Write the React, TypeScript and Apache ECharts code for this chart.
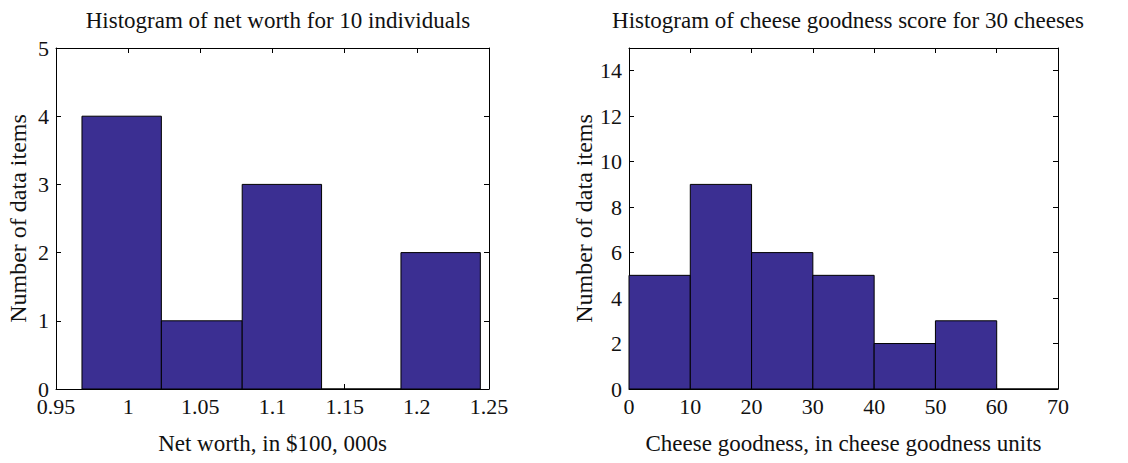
import React, { useEffect, useRef } from "react";
import * as echarts from "echarts";

const netEdges = [0.968, 1.023, 1.079, 1.134, 1.189, 1.244];
const netCounts = [4, 1, 3, 0, 2];
const cheeseEdges = [0, 10, 20, 30, 40, 50, 60, 70];
const cheeseCounts = [5, 9, 6, 5, 2, 3, 0];

const titles = [
  "Histogram of net worth for 10 individuals",
  "Histogram of cheese goodness score for 30 cheeses",
];
const xNames = ["Net worth, in $100, 000s", "Cheese goodness, in cheese goodness units"];
const yName = "Number of data items";

const FONT = "'Liberation Serif', 'Times New Roman', serif";
const FILL = "#3b2f92";
const TXT = "#111";

function binData(edges: number[], counts: number[]) {
  return counts.map((c, i) => [edges[i], edges[i + 1], c]);
}

export default function App() {
  const ref = useRef<HTMLDivElement>(null);
  useEffect(() => {
    if (!ref.current) return;
    const chart = echarts.init(ref.current, null, { renderer: "svg" });
    const grids = [
      { left: 56, right: 639, top: 48, bottom: 74 },
      { left: 629, right: 70, top: 48, bottom: 74 },
    ];
    const xCfg = [
      { min: 0.95, max: 1.25, interval: 0.05 },
      { min: 0, max: 70, interval: 10 },
    ];
    const yCfg = [
      { min: 0, max: 5, interval: 1 },
      { min: 0, max: 15, interval: 2 },
    ];
    const fmt = (v: number) => String(parseFloat(v.toFixed(2)));
    const tick = { show: true, inside: true, length: 5, lineStyle: { color: "#000", width: 1 } };
    const line = { show: true, onZero: false, lineStyle: { color: "#000", width: 1 } };
    const xAxis: any[] = [];
    const yAxis: any[] = [];
    [0, 1].forEach((g) => {
      xAxis.push({
        type: "value",
        gridIndex: g,
        position: "bottom",
        ...xCfg[g],
        name: xNames[g],
        nameLocation: "middle",
        nameGap: 43,
        nameTextStyle: { fontFamily: FONT, fontSize: 23, color: TXT },
        axisLine: line,
        axisTick: tick,
        splitLine: { show: false },
        axisLabel: { fontFamily: FONT, fontSize: 22, color: TXT, margin: 6, formatter: fmt },
      });
      xAxis.push({
        type: "value",
        gridIndex: g,
        position: "top",
        ...xCfg[g],
        axisLine: line,
        axisTick: tick,
        splitLine: { show: false },
        axisLabel: { show: false },
      });
      yAxis.push({
        type: "value",
        gridIndex: g,
        position: "left",
        ...yCfg[g],
        name: yName,
        nameLocation: "middle",
        nameGap: g === 0 ? 26 : 33,
        nameTextStyle: { fontFamily: FONT, fontSize: 24, color: TXT },
        axisLine: line,
        axisTick: tick,
        splitLine: { show: false },
        axisLabel: { fontFamily: FONT, fontSize: 22, color: TXT, margin: 7, showMaxLabel: g === 0 },
      });
      yAxis.push({
        type: "value",
        gridIndex: g,
        position: "right",
        ...yCfg[g],
        axisLine: line,
        axisTick: tick,
        splitLine: { show: false },
        axisLabel: { show: false },
      });
    });

    const renderItem = (params: any, api: any) => {
      const x0 = api.value(0);
      const x1 = api.value(1);
      const c = api.value(2);
      const p0 = api.coord([x0, c]);
      const p1 = api.coord([x1, 0]);
      return {
        type: "rect",
        shape: { x: p0[0], y: p0[1], width: p1[0] - p0[0], height: p1[1] - p0[1] },
        style: { fill: FILL, stroke: "#000", lineWidth: 1 },
      };
    };

    chart.setOption({
      animation: false,
      title: titles.map((t, i) => ({
        text: t,
        left: i === 0 ? 273 : 843,
        textAlign: "center",
        top: 4,
        textStyle: { fontFamily: FONT, fontSize: 23, fontWeight: "normal", color: TXT },
      })),
      grid: grids,
      xAxis,
      yAxis,
      series: [
        {
          type: "custom",
          xAxisIndex: 0,
          yAxisIndex: 0,
          renderItem,
          encode: { x: [0, 1], y: 2 },
          data: binData(netEdges, netCounts),
          z: 1,
        },
        {
          type: "custom",
          xAxisIndex: 2,
          yAxisIndex: 2,
          renderItem,
          encode: { x: [0, 1], y: 2 },
          data: binData(cheeseEdges, cheeseCounts),
          z: 1,
        },
      ],
    });
    return () => chart.dispose();
  }, []);
  return <div ref={ref} style={{ width: 1128, height: 463, position: "absolute", left: 0, top: 0, background: "#fff" }} />;
}
